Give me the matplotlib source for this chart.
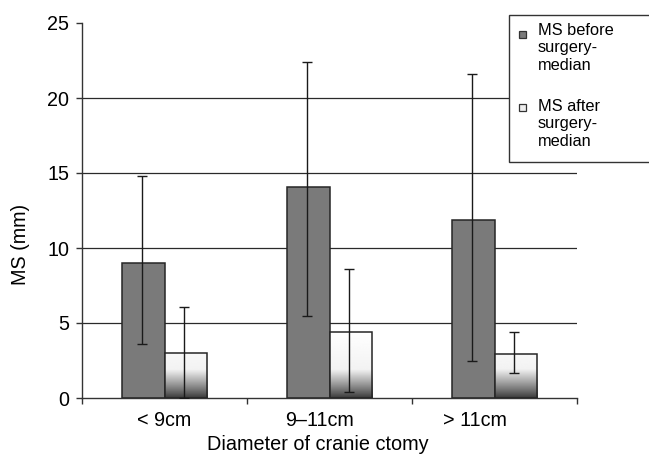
import numpy as np
import matplotlib
matplotlib.use("Agg")
import matplotlib.pyplot as plt
from matplotlib.patches import Rectangle

plt.rcParams['font.family'] = ['Liberation Sans', 'DejaVu Sans']

# Data: median MS (mm) by craniectomy diameter, with whisker ranges
categories = ["< 9cm", "9\u201311cm", "> 11cm"]
label_pos = [0.0, 0.94, 1.88]
before_median = [9.0, 14.1, 11.9]
before_low = [3.6, 5.5, 2.5]
before_high = [14.8, 22.4, 21.6]
after_median = [3.0, 4.4, 2.95]
after_low = [0.0, 0.4, 1.7]
after_high = [6.1, 8.6, 4.4]
legend_labels = ["MS before\nsurgery-\nmedian", "MS after\nsurgery-\nmedian"]
yticks = [0, 5, 10, 15, 20, 25]

W, H = 649, 459
fig = plt.figure(figsize=(W / 100, H / 100), dpi=100)

def fx(px):
    return px / W

def fy(py):
    return 1 - py / H

ax = fig.add_axes([fx(82), fy(398), fx(577) - fx(82), fy(23) - fy(398)])

x = np.arange(len(categories))
bw = 0.255
dark = "#7a7a7a"
edge = "#262626"

# gridlines behind the bars
for v in yticks[1:-1]:
    ax.axhline(v, color="#2a2a2a", lw=0.9, zorder=0)

bars_b = ax.bar(x - bw / 2, before_median, width=bw, color=dark,
                edgecolor=edge, linewidth=1.1, zorder=2)
bars_a = ax.bar(x + bw / 2, after_median, width=bw, color="none",
                edgecolor=edge, linewidth=1.1, zorder=3)

# white-to-dark vertical gradient on the "after" bars (dark at the base)
ys = np.linspace(0, 25, 1000)
t = np.clip(ys / 1.9, 0, 1)
shade = 0.22 + (0.95 - 0.22) * t ** 0.9
shade = np.where(ys > 1.9, 0.95 + 0.05 * np.clip((ys - 1.9) / 2.5, 0, 1), shade)
grad = np.repeat(shade[:, None], 2, axis=1)
for b in bars_a:
    x0 = b.get_x()
    im = ax.imshow(grad, cmap="gray", vmin=0, vmax=1, origin="lower",
                   extent=[x0, x0 + b.get_width(), 0, 25], aspect="auto",
                   interpolation="bilinear", zorder=2.5)
    clip = Rectangle((x0, 0), b.get_width(), b.get_height(),
                     transform=ax.transData)
    im.set_clip_path(clip)

# whiskers
def whisk(xpos, med, lo, hi):
    med = np.array(med)
    yerr = np.vstack([med - np.array(lo), np.array(hi) - med])
    ax.errorbar(xpos, med, yerr=yerr, fmt="none", ecolor="#1a1a1a",
                elinewidth=1.0, capsize=3.6, capthick=1.0, zorder=4)

whisk(x - bw / 2 - 0.01, before_median, before_low, before_high)
whisk(x + bw / 2 - 0.01, after_median, after_low, after_high)

ax.set_xlim(-0.5, 2.5)
ax.set_ylim(0, 25)
ax.set_yticks(yticks)
ax.set_xticks([-0.5, 0.5, 1.5, 2.5])
ax.set_xticklabels([])
ax.set_xticks(label_pos, minor=True)
ax.set_xticklabels(categories, minor=True)
ax.tick_params(axis="x", which="minor", length=0, pad=9, labelsize=14.2)
ax.tick_params(axis="x", which="major", length=4, width=1, color="#333", direction="out")
ax.tick_params(axis="y", length=4, width=1, color="#333", labelsize=14.2, pad=5)

for s in ["top", "right"]:
    ax.spines[s].set_visible(False)
for s in ["left", "bottom"]:
    ax.spines[s].set_color("#333")
    ax.spines[s].set_linewidth(1.0)

fig.text(fx(318), fy(445), "Diameter of cranie ctomy", ha="center", va="center",
         fontsize=14.3)
fig.text(fx(21), fy(244), "MS (mm)", rotation=90, ha="center", va="center",
         fontsize=14.2)

# legend box
fig.patches.append(Rectangle((fx(509), fy(162)), fx(160), fy(15) - fy(162),
                             transform=fig.transFigure, facecolor="white",
                             edgecolor="#333", linewidth=1.0, zorder=5))
for (my, ty, fc), lab in zip([(34.5, 23, dark), (107.5, 99, "#eeeeee")], legend_labels):
    fig.patches.append(Rectangle((fx(518.5), fy(my + 3.5)), fx(7), fy(my - 3.5) - fy(my + 3.5),
                                 transform=fig.transFigure, facecolor=fc,
                                 edgecolor="#333", linewidth=0.9, zorder=6))
    fig.text(fx(538), fy(ty), lab, ha="left", va="top", fontsize=11.8,
             linespacing=1.2, zorder=6)

fig.savefig("out.png", dpi=100)
